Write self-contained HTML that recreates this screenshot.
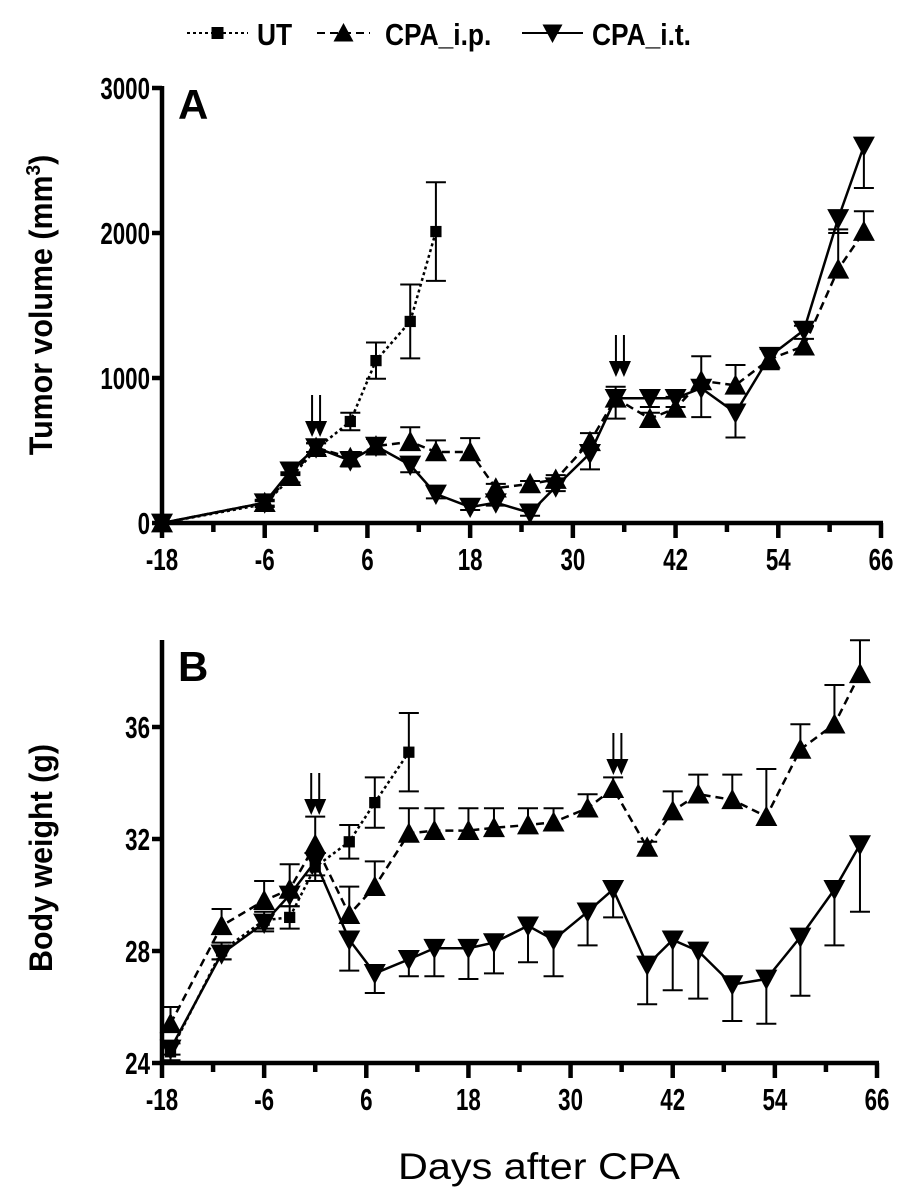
<!DOCTYPE html>
<html><head><meta charset="utf-8"><style>
html,body{margin:0;padding:0;background:#fff}
svg{display:block}
text{font-family:"Liberation Sans",sans-serif;font-weight:bold;fill:#000}
</style></head><body>
<svg id="fig" width="909" height="1202" viewBox="0 0 909 1202" xmlns="http://www.w3.org/2000/svg">
<g id="legend"></g>
<g id="pa"></g>
<g id="pb"></g>
<text x="398" y="1179" textLength="282" lengthAdjust="spacingAndGlyphs" style="font-weight:normal;font-size:37px">Days after CPA</text>
</svg>
<script>
// ---- Panel A data (tumor volume, mm3) ----
const daysA = [-18,-6,-3,0,4,7,11,14,18,21,25,28,32,35,39,42,45,49,53,57,61,64];
const utDaysA = [-18,-6,-3,0,4,7,11,14];
const utVolA = [0,130,310,510,700,1120,1390,2010];
const utErrA = [0,20,30,40,60,125,255,340];
const ipVolA = [0,140,320,520,450,530,560,490,490,240,270,300,560,860,720,790,980,950,1130,1220,1750,2010];
const ipErrA = [0,20,30,30,40,50,100,80,95,30,20,30,60,80,40,80,170,140,70,140,275,140];
const itVolA = [0,140,360,520,430,530,400,200,110,140,70,250,480,860,860,860,930,760,1150,1330,2100,2600];
const itErrA = [0,20,30,30,40,40,50,30,20,20,20,30,110,140,60,60,200,170,90,60,100,290];
const yTicksA = [0,1000,2000,3000];
// ---- Panel B data (body weight, g) ----
const daysB = [-17,-11,-6,-3,0,4,7,11,14,18,21,25,28,32,35,39,42,45,49,53,57,61,64];
const utDaysB = [-17,-11,-6,-3,0,4,7,11];
const utWtB = [24.4,28.0,29.1,29.2,31.0,31.9,33.3,35.1];
const utErrB = [0.3,0.3,0.3,0.4,0.5,0.6,0.9,1.4];
const ipWtB = [25.4,28.9,29.8,30.2,31.8,29.3,30.3,32.2,32.3,32.3,32.4,32.5,32.6,33.1,33.8,31.7,33.0,33.6,33.4,32.8,35.2,36.1,37.9];
const ipErrB = [0.6,0.6,0.7,0.9,1.0,1.0,0.9,0.9,0.8,0.8,0.7,0.6,0.5,0.5,0.4,0.2,0.7,0.7,0.9,1.7,0.9,1.4,1.2];
const itWtB = [24.5,27.9,29.0,30.0,31.2,28.4,27.2,27.7,28.1,28.1,28.3,28.9,28.4,29.4,30.2,27.5,28.4,28.0,26.8,27.0,28.5,30.2,31.8];
const itErrB = [0.2,0.2,0.3,0.4,0.5,1.1,0.7,0.6,1.0,1.1,1.1,1.3,1.3,1.2,1.0,1.4,1.8,1.7,1.3,1.6,2.1,2.0,2.4];
const yTicksB = [24,28,32,36];
const xTicks = [-18,-6,6,18,30,42,54,66];

const NS='http://www.w3.org/2000/svg';
function el(p,tag,attrs){const e=document.createElementNS(NS,tag);for(const k in attrs)e.setAttribute(k,attrs[k]);p.appendChild(e);return e;}
function marker(g,shape,x,y,s){
  let m;
  if(shape==='sq') m=el(g,'rect',{x:x-s*0.75,y:y-s*0.75,width:s*1.5,height:s*1.5,fill:'#000'});
  else if(shape==='up') m=el(g,'polygon',{points:`${x},${y-s} ${x-s},${y+s*0.85} ${x+s},${y+s*0.85}`,fill:'#000'});
  else m=el(g,'polygon',{points:`${x},${y+s} ${x-s},${y-s*0.85} ${x+s},${y-s*0.85}`,fill:'#000'});
  return m;
}
function panel(g,cfg){
  const X=d=>cfg.x0+(d-(-18))*(cfg.x1-cfg.x0)/84;
  const Y=v=>cfg.yb-(v-cfg.vmin)*(cfg.yb-cfg.yt)/(cfg.vmax-cfg.vmin);
  const ax=el(g,'path',{d:`M${cfg.x0},${cfg.ytop} V${cfg.yb} H${cfg.x1+2}`,stroke:'#000','stroke-width':4.5,fill:'none'});
  
  
  for(let d=-18;d<=66;d+=6){
    const major=((d+18)%12===0);
    const t=el(g,'line',{x1:X(d),x2:X(d),y1:cfg.yb,y2:cfg.yb+(major?15:9),stroke:'#000','stroke-width':4.5});
    
    
  }
  xTicks.forEach(d=>{
    const t=el(g,'text',{transform:`translate(${X(d)},${cfg.yb+47}) scale(0.72,1)`,'text-anchor':'middle','font-size':31});
    t.textContent=d;
    
    
  });
  cfg.yticks.forEach(v=>{
    const t=el(g,'line',{x1:cfg.x0-10,x2:cfg.x0,y1:Y(v),y2:Y(v),stroke:'#000','stroke-width':4.5});
    
    
    const l=el(g,'text',{transform:`translate(${cfg.x0-12},${Y(v)+11}) scale(0.72,1)`,'text-anchor':'end','font-size':31});
    l.textContent=v;
    
    
  });
  const lt=el(g,'text',{x:cfg.x0+16,y:cfg.letterY,'font-size':42});
  lt.textContent=cfg.letter;
  
  
  const yt=el(g,'text',{transform:`translate(${cfg.titleX},${cfg.titleY}) rotate(-90) scale(0.95,1)`,'text-anchor':'middle','font-size':32});
  yt.innerHTML=cfg.title;
  
  
  cfg.series.forEach(s=>{
    const sg=el(g,'g',{});
    
    
    const pts=s.days.map((d,i)=>`${X(d)},${Y(s.vals[i])}`).join(' ');
    el(sg,'polyline',{points:pts,fill:'none',stroke:'#000','stroke-width':s.sw,'stroke-dasharray':s.dash});
    s.days.forEach((d,i)=>{
      const x=X(d),y=Y(s.vals[i]),e=s.errs[i];
      const up=s.dir>=0, dn=s.dir<=0;
      const ya=up?Y(s.vals[i]+e):y, yb2=dn?Y(s.vals[i]-e):y;
      if(e>0){
        const eb=el(sg,'path',{d:`M${x},${ya} V${yb2}`+(up?` M${x-10},${ya} H${x+10}`:'')+(dn?` M${x-10},${yb2} H${x+10}`:''),stroke:'#000','stroke-width':2,fill:'none'});
        
        
      }
      const m=marker(sg,s.shape,x,y,s.shape==='sq'?7.5:11);
      
      
    });
  });
  cfg.arrows.forEach(a=>{
    const ag=el(g,'g',{});
    
    
    [-4,4].forEach(dx=>{
      const x=X(a.day)+dx;
      el(ag,'line',{x1:x,x2:x,y1:a.y,y2:a.y+34,stroke:'#000','stroke-width':2});
      el(ag,'polygon',{points:`${x-7},${a.y+26} ${x+7},${a.y+26} ${x},${a.y+42}`,fill:'#000'});
    });
  });
}
panel(document.getElementById('pa'),{x0:162,x1:881,yb:523,yt:88,ytop:86,vmin:0,vmax:3000,yticks:yTicksA,letter:'A',letterY:119,
  title:'Tumor volume (mm<tspan dy="-12" font-size="20">3</tspan><tspan dy="12">)</tspan>',titleX:52,titleY:305,
  arrows:[{day:0,y:395},{day:35.5,y:335}],
  series:[
   {name:'ut-series',days:utDaysA,vals:utVolA,errs:utErrA,shape:'sq',dash:'3,3',sw:2.5,dir:0},
   {name:'cpa-ip-series',days:daysA,vals:ipVolA,errs:ipErrA,shape:'up',dash:'8,5',sw:2.5,dir:1},
   {name:'cpa-it-series',days:daysA,vals:itVolA,errs:itErrA,shape:'dn',dash:'none',sw:2.5,dir:-1}]});
panel(document.getElementById('pb'),{x0:162,x1:877,yb:1063,yt:727,ytop:640,vmin:24,vmax:36,yticks:yTicksB,letter:'B',letterY:681,
  title:'Body weight (g)',titleX:52,titleY:858,
  arrows:[{day:0,y:773},{day:35.5,y:733}],
  series:[
   {name:'ut-series',days:utDaysB,vals:utWtB,errs:utErrB,shape:'sq',dash:'3,3',sw:2.5,dir:0},
   {name:'cpa-ip-series',days:daysB,vals:ipWtB,errs:ipErrB,shape:'up',dash:'8,5',sw:2.5,dir:1},
   {name:'cpa-it-series',days:daysB,vals:itWtB,errs:itErrB,shape:'dn',dash:'none',sw:2.5,dir:-1}]});
const lg=document.getElementById('legend');
[{x1:187,x2:248,tx:257,label:'UT',shape:'sq',dash:'3,3',n:'legend-entry-ut'},
 {x1:317,x2:370,tx:385,label:'CPA_i.p.',shape:'up',dash:'8,5',n:'legend-entry-cpa-ip'},
 {x1:522,x2:583,tx:592,label:'CPA_i.t.',shape:'dn',dash:'none',n:'legend-entry-cpa-it'}].forEach(e=>{
  const g=el(lg,'g',{});
  
  
  el(g,'line',{x1:e.x1,x2:e.x2,y1:33,y2:33,stroke:'#000','stroke-width':2,'stroke-dasharray':e.dash});
  marker(g,e.shape,(e.x1+e.x2)/2,33,e.shape==='sq'?8:10);
  const t=el(g,'text',{transform:`translate(${e.tx},45) scale(0.85,1)`,'font-size':31});
  t.textContent=e.label;
});
</script>
</body></html>
